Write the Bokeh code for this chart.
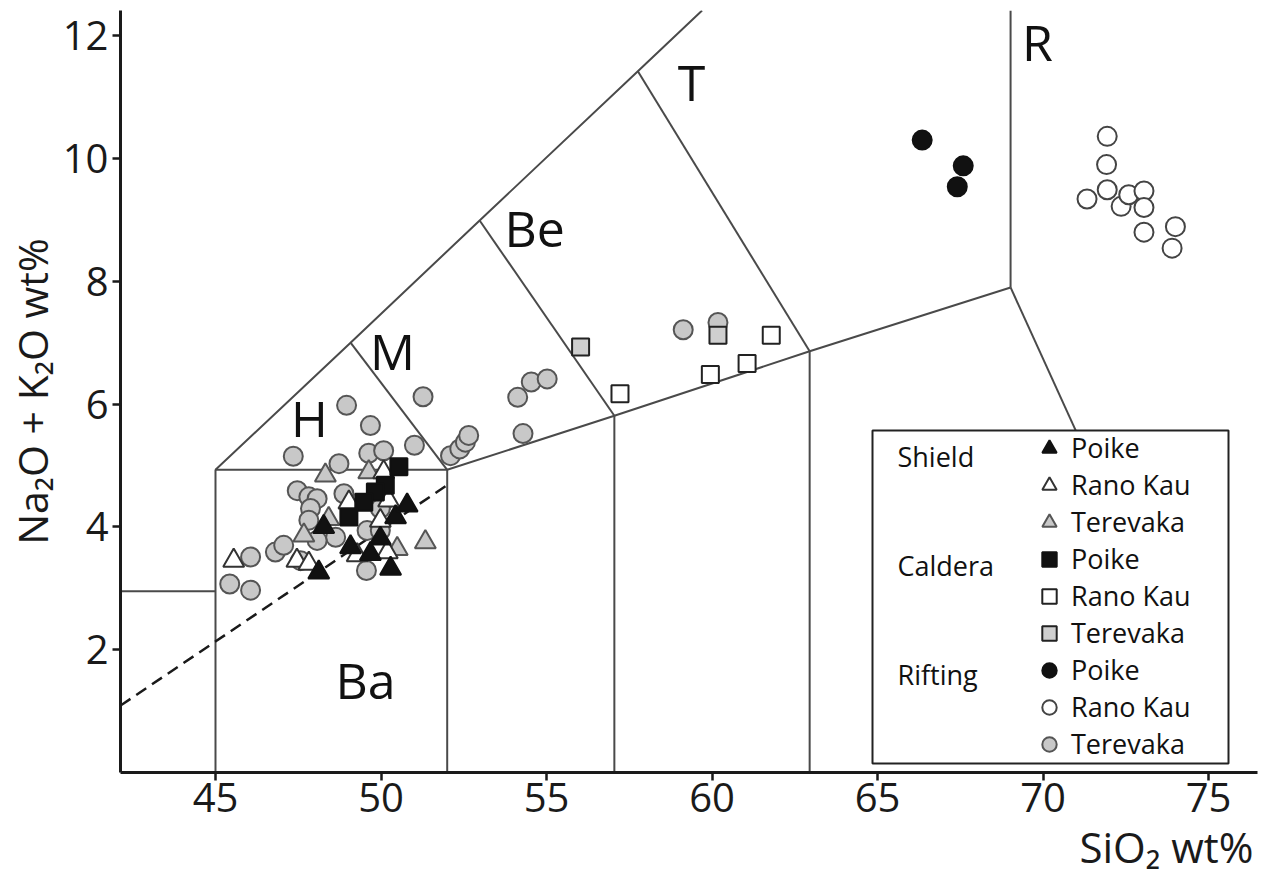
import numpy as np
from bokeh.plotting import figure
from bokeh.models import (Range1d, FixedTicker, Legend, LegendItem, Label,
                          BoxAnnotation, Title)
from bokeh.core.properties import value
from bokeh.embed import file_html
from bokeh.resources import INLINE

FONT = "Open Sans"

# ---------------- data (SiO2 wt%, Na2O+K2O wt%) ----------------
shield_poike_x = [48.27, 48.12, 49.08, 49.68, 49.98, 50.29, 50.44, 50.79]
shield_poike_y = [4.00, 3.26, 3.67, 3.56, 3.81, 3.32, 4.16, 4.35]

shield_ranokau_x = [45.55, 47.46, 47.82, 49.03, 50.23, 49.98, 50.19, 49.28, 50.08]
shield_ranokau_y = [3.45, 3.45, 3.40, 4.40, 4.43, 4.10, 3.59, 3.54, 4.89]

shield_terevaka_x = [48.32, 49.63, 48.42, 47.67, 50.49, 51.34]
shield_terevaka_y = [4.84, 4.89, 4.13, 3.86, 3.64, 3.75]

caldera_poike_x = [50.54, 50.13, 49.83, 49.48, 49.03]
caldera_poike_y = [4.98, 4.68, 4.57, 4.40, 4.16]

caldera_ranokau_x = [57.22, 59.95, 61.06, 61.79]
caldera_ranokau_y = [6.17, 6.48, 6.66, 7.12]

caldera_terevaka_x = [56.03, 60.18]
caldera_terevaka_y = [6.93, 7.12]

rifting_poike_x = [66.35, 67.59, 67.41]
rifting_poike_y = [10.30, 9.88, 9.54]

rifting_ranokau_x = [71.94, 71.92, 71.94, 71.33, 72.36, 72.59, 73.05, 73.05, 73.05, 74.00, 73.90]
rifting_ranokau_y = [10.36, 9.90, 9.49, 9.34, 9.22, 9.41, 9.47, 9.20, 8.80, 8.89, 8.54]

rifting_terevaka_x = [47.35, 48.73, 48.96, 49.68, 49.63, 50.08, 51.01, 51.27, 52.10, 52.38,
                      52.55, 52.65, 54.13, 54.54, 55.02, 54.29, 59.13, 60.18,
                      47.47, 47.82, 48.07, 47.87, 47.82, 48.88, 48.63, 48.07, 46.81, 47.06,
                      46.06, 45.43, 46.06, 49.58, 49.98, 50.03, 49.56, 47.57, 49.98]
rifting_terevaka_y = [5.15, 5.03, 5.98, 5.65, 5.20, 5.24, 5.33, 6.12, 5.16, 5.27,
                      5.38, 5.49, 6.11, 6.36, 6.41, 5.52, 7.21, 7.33,
                      4.59, 4.49, 4.46, 4.30, 4.11, 4.54, 3.83, 3.78, 3.59, 3.70,
                      3.51, 3.07, 2.97, 3.94, 3.94, 4.38, 3.29, 3.45, 4.30]

# ---------------- TAS field boundaries ----------------
boundary_xs = [
    [42.13, 45.0],
    [45.0, 45.0, 52.0, 57.05, 62.95, 69.02],
    [52.0, 52.0],
    [57.05, 57.05],
    [62.95, 62.95],
    [45.0, 49.08, 52.98, 57.76, 59.70],
    [52.0, 49.08],
    [57.05, 52.98],
    [62.95, 57.76],
    [69.02, 69.02],
    [69.02, 71.30],
]
boundary_ys = [
    [2.95, 2.95],
    [0.0, 4.93, 4.93, 5.81, 6.86, 7.90],
    [0.0, 4.93],
    [0.0, 5.81],
    [0.0, 6.86],
    [4.93, 7.00, 8.99, 11.42, 12.41],
    [4.93, 7.00],
    [5.81, 8.99],
    [6.86, 11.42],
    [7.90, 12.41],
    [7.90, 5.20],
]
dashed_x = [42.13, 52.0]
dashed_y = [1.09, 4.68]

zone_names = ["Ba", "H", "M", "Be", "T", "R"]
zone_x = [49.53, 47.84, 50.35, 54.64, 59.38, 69.83]
zone_y = [1.50, 5.78, 6.87, 8.87, 11.25, 11.89]

x_ticks = [45, 50, 55, 60, 65, 70, 75]
y_ticks = [2, 4, 6, 8, 10, 12]

x_title = "SiO₂ wt%"
y_title = "Na₂O + K₂O wt%"
group_names = ["Shield", "Caldera", "Rifting"]
volcano_names = ["Poike", "Rano Kau", "Terevaka"]

# ---------------- figure ----------------
p = figure(width=1264, height=876,
           x_range=Range1d(42.13, 76.48), y_range=Range1d(0, 12.41),
           output_backend="svg", toolbar_location=None,
           min_border_left=120, min_border_right=7,
           min_border_top=10, min_border_bottom=104,
           background_fill_color="white", border_fill_color="white",
           outline_line_color=None)
p.grid.visible = False

xa = p.xaxis[0]
ya = p.yaxis[0]
for ax in (xa, ya):
    ax.axis_line_width = 3
    ax.axis_line_color = "#1a1a1a"
    ax.major_tick_line_width = 2.5
    ax.major_tick_line_color = "#1a1a1a"
    ax.major_tick_out = 8
    ax.major_tick_in = 0
    ax.minor_tick_line_color = None
    ax.major_label_text_font = FONT
    ax.major_label_text_font_size = "40px"
    ax.major_label_text_color = "#1a1a1a"
    ax.axis_label_text_font = FONT
    ax.axis_label_text_font_style = "normal"
    ax.axis_label_text_color = "#1a1a1a"
xa.ticker = FixedTicker(ticks=x_ticks)
ya.ticker = FixedTicker(ticks=y_ticks)
xa.major_label_standoff = 2
ya.major_label_standoff = 4

ya.axis_label = y_title
ya.axis_label_text_font_size = "41px"
ya.axis_label_standoff = 0

# x-axis title, right-aligned under the axis
p.add_layout(Title(text=x_title, align="right", vertical_align="bottom",
                   standoff=2, offset=4,
                   text_font=FONT, text_font_size="42px",
                   text_font_style="normal", text_color="#1a1a1a"), "below")

# boundaries
p.multi_line(xs=boundary_xs, ys=boundary_ys, line_color="#4a4a4a", line_width=2)
p.line(dashed_x, dashed_y, line_color="#1a1a1a", line_width=2.5, line_dash="12 7")

# zone labels
p.text(x=zone_x, y=zone_y, text=zone_names, text_font=value(FONT),
       text_font_size="50px", text_align="center", text_baseline="middle",
       text_color="#111111")

# data points
r_rt = p.scatter(rifting_terevaka_x, rifting_terevaka_y, marker="circle", size=19,
                 fill_color="#c8c8c8", line_color="#555555", line_width=2)
r_st = p.scatter(shield_terevaka_x, shield_terevaka_y, marker="triangle", size=21,
                 fill_color="#c8c8c8", line_color="#555555", line_width=2)
r_sr = p.scatter(shield_ranokau_x, shield_ranokau_y, marker="triangle", size=21,
                 fill_color="white", line_color="#333333", line_width=2)
r_sp = p.scatter(shield_poike_x, shield_poike_y, marker="triangle", size=21,
                 fill_color="#111111", line_color="#111111", line_width=2)
r_cp = p.scatter(caldera_poike_x, caldera_poike_y, marker="square", size=17,
                 fill_color="#111111", line_color="#111111", line_width=2)
r_cr = p.scatter(caldera_ranokau_x, caldera_ranokau_y, marker="square", size=17,
                 fill_color="white", line_color="#222222", line_width=2)
r_ct = p.scatter(caldera_terevaka_x, caldera_terevaka_y, marker="square", size=17,
                 fill_color="#cfcfcf", line_color="#222222", line_width=2)
r_rp = p.scatter(rifting_poike_x, rifting_poike_y, marker="circle", size=19,
                 fill_color="#111111", line_color="#111111", line_width=2)
r_rr = p.scatter(rifting_ranokau_x, rifting_ranokau_y, marker="circle", size=19,
                 fill_color="white", line_color="#444444", line_width=2)

# legend box
box = BoxAnnotation(left=752, right=1108, bottom=9, top=342,
                    left_units="screen", right_units="screen",
                    bottom_units="screen", top_units="screen",
                    fill_color="white", fill_alpha=1.0,
                    line_color="#222222", line_width=2, line_alpha=1.0)
p.add_layout(box)

renderers = [r_sp, r_sr, r_st, r_cp, r_cr, r_ct, r_rp, r_rr, r_rt]
items = [LegendItem(label=volcano_names[i % 3], renderers=[r])
         for i, r in enumerate(renderers)]
legend = Legend(items=items, location=(911, 10), orientation="vertical",
                border_line_color=None, background_fill_alpha=0,
                label_text_font=FONT, label_text_font_size="27px",
                label_text_color="#111111",
                glyph_width=36, glyph_height=36, label_height=36,
                spacing=0, padding=0, margin=0, label_standoff=4)
p.add_layout(legend)

for gi, g in enumerate(group_names):
    p.add_layout(Label(x=777, y=316 - gi * 109, x_units="screen", y_units="screen",
                       text=g, text_font=FONT, text_font_size="27px",
                       text_baseline="middle", text_color="#111111"))

open("out.html", "w").write(file_html(p, INLINE))
